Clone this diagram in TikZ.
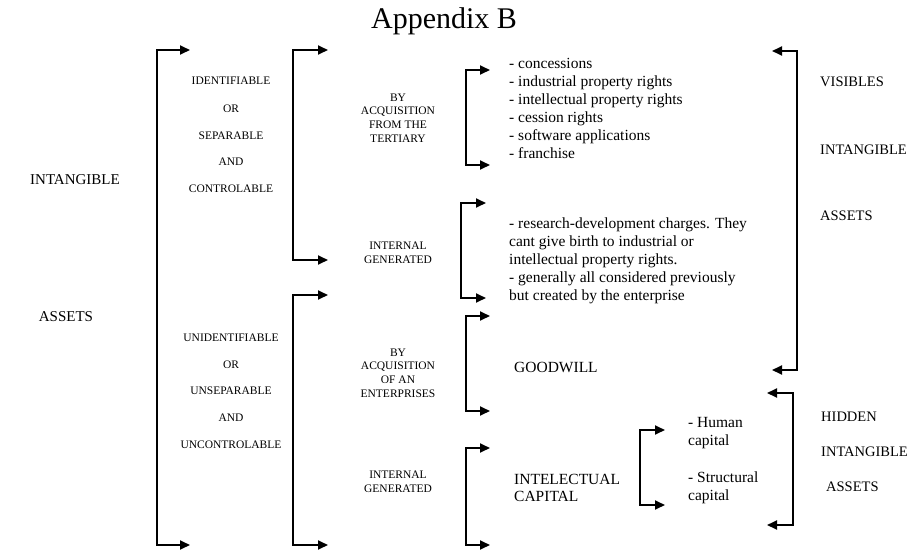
\documentclass[tikz,border=0pt]{standalone}
\usepackage{fontspec}
\setmainfont{Liberation Serif}
\usetikzlibrary{arrows.meta}
\begin{document}
\begin{tikzpicture}[x=1pt,y=-1pt,
  br/.style={line width=1.8pt,{Triangle[length=10pt,width=9pt]}-{Triangle[length=10pt,width=9pt]}},
  lab/.style={font=\fontsize{11.5}{14}\selectfont,inner sep=0pt,align=center},
  big/.style={font=\fontsize{15}{18}\selectfont,inner sep=0pt},
  rlab/.style={font=\fontsize{14.5}{17}\selectfont,inner sep=0pt,anchor=west},
  txt/.style={font=\fontsize{15.5}{18}\selectfont,inner sep=0pt,align=left,anchor=north west},
  mid/.style={font=\fontsize{11.5}{14}\selectfont,inner sep=0pt,align=center}]
\useasboundingbox (0,0) rectangle (914,552);
\node[font=\fontsize{30}{34}\selectfont,inner sep=0pt] (title) at (444,21) {Appendix B};
% left labels
\node[big] (intang) at (75,180) {INTANGIBLE};
\node[big] (assets) at (66,317) {ASSETS};
% level 1 labels
\node[lab] (id1) at (231,81) {IDENTIFIABLE};
\node[lab] (id2) at (231,109) {OR};
\node[lab] (id3) at (231,136) {SEPARABLE};
\node[lab] (id4) at (231,162) {AND};
\node[lab] (id5) at (231,189) {CONTROLABLE};
\node[lab] (un1) at (231,338) {UNIDENTIFIABLE};
\node[lab] (un2) at (231,365) {OR};
\node[lab] (un3) at (231,391) {UNSEPARABLE};
\node[lab] (un4) at (231,418) {AND};
\node[lab] (un5) at (231,445) {UNCONTROLABLE};
% level 2 labels
\node[mid,font=\fontsize{11.5}{13.7}\selectfont] (acq1) at (398,118) {BY\\ACQUISITION\\FROM THE\\TERTIARY};
\node[mid] (int1) at (398,253) {INTERNAL\\GENERATED};
\node[mid,font=\fontsize{11.5}{13.7}\selectfont] (acq2) at (398,373) {BY\\ACQUISITION\\OF AN\\ENTERPRISES};
\node[mid] (int2) at (398,482) {INTERNAL\\GENERATED};
% level 3 texts
\node[txt] (list) at (509,58) {- concessions\\- industrial property rights\\- intellectual property rights\\- cession rights\\- software applications\\- franchise};
\node[txt,font=\fontsize{15.5}{17.8}\selectfont] (rd) at (509,218) {- research-development charges. They\\cant give birth to industrial or\\intellectual property rights.\\- generally all considered previously\\but created by the enterprise};
\node[font=\fontsize{15.5}{18}\selectfont,inner sep=0pt,anchor=west] (gw) at (514,367) {GOODWILL};
\node[font=\fontsize{15.5}{17}\selectfont,inner sep=0pt,align=left,anchor=west] (ic) at (514,488) {INTELECTUAL\\CAPITAL};
\node[txt] (hc) at (688,417) {- Human\\capital};
\node[txt] (sc) at (688,472) {- Structural\\capital};
% right labels
\node[rlab] (vis1) at (820,82) {VISIBLES};
\node[rlab] (vis2) at (820,150) {INTANGIBLE};
\node[rlab] (vis3) at (820,216) {ASSETS};
\node[rlab] (hid1) at (821,417) {HIDDEN};
\node[rlab] (hid2) at (821,452) {INTANGIBLE};
\node[rlab] (hid3) at (826,487) {ASSETS};
% bracket end points
\coordinate (b1a) at (190,50);  \coordinate (b1b) at (190,545);
\coordinate (b2a) at (328,50);  \coordinate (b2b) at (328,260);
\coordinate (b3a) at (328,295); \coordinate (b3b) at (328,545);
\coordinate (c1a) at (490,70);  \coordinate (c1b) at (490,165);
\coordinate (c2a) at (486,203); \coordinate (c2b) at (486,298);
\coordinate (c3a) at (490,316); \coordinate (c3b) at (490,411);
\coordinate (c4a) at (490,448); \coordinate (c4b) at (490,545);
\coordinate (d1a) at (665,430); \coordinate (d1b) at (665,505);
\coordinate (r1a) at (772,51);  \coordinate (r1b) at (772,370);
\coordinate (r2a) at (767,393); \coordinate (r2b) at (767,525);
% brackets
\draw[br] (b1a) -- ++(-33,0) |- (b1b);
\draw[br] (b2a) -- ++(-35,0) |- (b2b);
\draw[br] (b3a) -- ++(-35,0) |- (b3b);
\draw[br] (c1a) -- ++(-24,0) |- (c1b);
\draw[br] (c2a) -- ++(-25,0) |- (c2b);
\draw[br] (c3a) -- ++(-24,0) |- (c3b);
\draw[br] (c4a) -- ++(-24,0) |- (c4b);
\draw[br] (d1a) -- ++(-25,0) |- (d1b);
\draw[br] (r1a) -- ++(25,0) |- (r1b);
\draw[br] (r2a) -- ++(26,0) |- (r2b);
\end{tikzpicture}
\end{document}
